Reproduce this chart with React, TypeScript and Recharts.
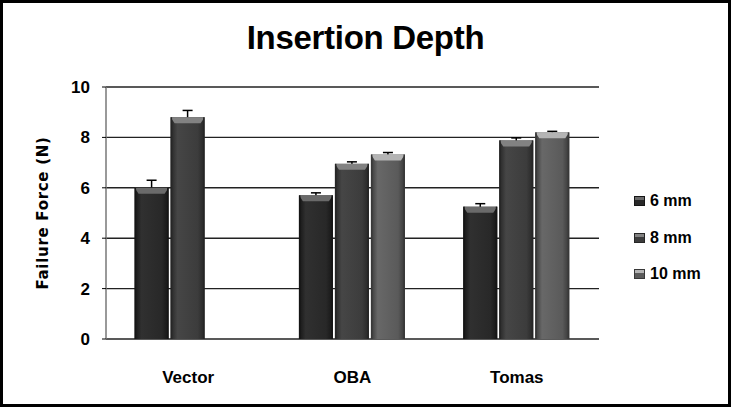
import { BarChart, Bar, XAxis, YAxis, CartesianGrid } from 'recharts';

const categories = ['Vector', 'OBA', 'Tomas'];
const seriesNames = ['6 mm', '8 mm', '10 mm'];
const mm6 = [6.0, 5.7, 5.25];
const mm8 = [8.8, 6.95, 7.88];
const mm10 = [null, 7.32, 8.2];
const err6 = [0.3, 0.1, 0.12];
const err8 = [0.27, 0.08, 0.1];
const err10 = [null, 0.08, 0.04];
const yTicks = [0, 2, 4, 6, 8, 10];

const data = categories.map((name, i) => ({
  name,
  mm6: mm6[i],
  mm8: mm8[i],
  mm10: mm10[i],
  err6: err6[i],
  err8: err8[i],
  err10: err10[i],
}));

const styles = [
  { id: 'g6', body: '#282828', edge: '#151515', light: '#303030', cap: '#6a6a6a' },
  { id: 'g8', body: '#3c3c3c', edge: '#262626', light: '#464646', cap: '#828282' },
  { id: 'g10', body: '#5a5a5a', edge: '#383838', light: '#686868', cap: '#b4b4b4' },
];

const sans = '"Liberation Sans", Arial, sans-serif';

const makeShape = (s: any, valKey: string, errKey: string) => (props: any) => {
  const { x, y, width, height, payload } = props;
  const val = payload[valKey];
  if (val == null || !height || height <= 0) return <g />;
  const err = payload[errKey] || 0;
  const eh = (err * height) / val;
  const cx = x + width / 2;
  const bev = 6;
  return (
    <g>
      <line x1={cx} y1={y - eh} x2={cx} y2={y + 2} stroke="#000" strokeWidth={1.5} />
      <line x1={cx - 5} y1={y - eh} x2={cx + 5} y2={y - eh} stroke="#000" strokeWidth={1.5} />
      <rect x={x} y={y} width={width} height={height} fill={`url(#${s.id})`} />
      <polygon
        points={`${x},${y} ${x + width},${y} ${x + width - 4},${y + bev} ${x + 4},${y + bev}`}
        fill={s.cap}
      />
      <rect x={x} y={y} width={1.5} height={height} fill={s.edge} />
      <rect x={x + width - 1.5} y={y} width={1.5} height={height} fill={s.edge} />
    </g>
  );
};

function ChartLegend() {
  return (
    <div style={{ position: 'absolute', left: 634, top: 183 }}>
      {seriesNames.map((n, i) => (
        <div key={n} style={{ height: 36.5, display: 'flex', alignItems: 'center' }}>
          <div
            style={{
              width: 11,
              height: 10,
              background: `linear-gradient(${styles[i].cap} 0 35%, ${styles[i].body} 35%)`,
              border: `1px solid ${styles[i].edge}`,
              boxSizing: 'border-box',
              marginRight: 5,
            }}
          />
          <span style={{ fontFamily: sans, fontWeight: 700, fontSize: 16, color: '#000' }}>{n}</span>
        </div>
      ))}
    </div>
  );
}

export default function App() {
  return (
    <div style={{ position: 'absolute', left: 0, top: 0, width: 731, height: 407, background: '#fff' }}>
      <div
        style={{
          position: 'absolute',
          left: 0,
          top: 21,
          width: 731,
          textAlign: 'center',
          fontFamily: sans,
          fontWeight: 700,
          fontSize: 33,
          lineHeight: '33px',
          letterSpacing: -0.3,
          color: '#000',
        }}
      >
        Insertion Depth
      </div>
      <BarChart
        width={731}
        height={407}
        data={data}
        margin={{ top: 87, right: 132, left: 56, bottom: 38 }}
        barCategoryGap="17.4%"
        barGap={2}
      >
        <defs>
          {styles.map((s) => (
            <linearGradient key={s.id} id={s.id} x1="0" y1="0" x2="1" y2="0">
              <stop offset="0%" stopColor={s.edge} />
              <stop offset="20%" stopColor={s.light} />
              <stop offset="80%" stopColor={s.body} />
              <stop offset="100%" stopColor={s.edge} />
            </linearGradient>
          ))}
        </defs>
        <CartesianGrid vertical={false} stroke="#222" strokeWidth={1.4} />
        <XAxis
          dataKey="name"
          height={30}
          axisLine={false}
          tickLine={false}
          tickMargin={26}
          tick={{ fill: '#000', fontSize: 17, fontWeight: 700, fontFamily: sans }}
        />
        <YAxis
          width={50}
          domain={[0, 10]}
          ticks={yTicks}
          axisLine={{ stroke: '#777', strokeWidth: 1.5 }}
          tickLine={{ stroke: '#000' }}
          tickSize={4}
          tickMargin={12}
          tick={{ fill: '#000', fontSize: 17, fontWeight: 700, fontFamily: sans }}
          label={{
            content: () => (
              <text
                x={43}
                y={213}
                transform="rotate(-90 43 213)"
                textAnchor="middle"
                dominantBaseline="middle"
                style={{ fontFamily: '"DejaVu Sans", Verdana, sans-serif', fontWeight: 700, fontSize: 15, letterSpacing: 0.7 }}
                fill="#000"
              >
                Failure Force (N)
              </text>
            ),
          }}
        />
        <Bar dataKey="mm6" name={seriesNames[0]} fill={styles[0].body} shape={makeShape(styles[0], 'mm6', 'err6')} isAnimationActive={false} />
        <Bar dataKey="mm8" name={seriesNames[1]} fill={styles[1].body} shape={makeShape(styles[1], 'mm8', 'err8')} isAnimationActive={false} />
        <Bar dataKey="mm10" name={seriesNames[2]} fill={styles[2].body} shape={makeShape(styles[2], 'mm10', 'err10')} isAnimationActive={false} />
      </BarChart>
      <ChartLegend />
      <div
        style={{
          position: 'absolute',
          left: 0,
          top: 0,
          width: 731,
          height: 407,
          border: '3px solid #000',
          boxSizing: 'border-box',
          pointerEvents: 'none',
        }}
      />
    </div>
  );
}
